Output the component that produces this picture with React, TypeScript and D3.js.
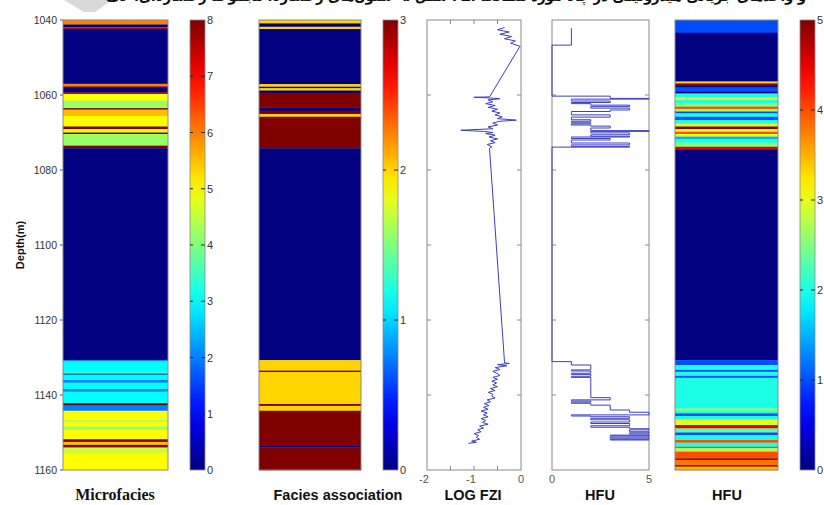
import React from "react";
import * as d3 from "d3";

// ---------- DATA ----------
const depthTicks = [1040, 1060, 1080, 1100, 1120, 1140, 1160];
const depthDomain = [1040, 1160];

// Microfacies (0-8): band top depth / value
const microTop = [1040, 1041.2, 1041.9, 1042.3, 1057.0, 1057.7, 1058.1, 1059.3, 1059.7, 1061.5, 1063.5, 1063.9, 1065.6, 1068.4, 1069.1, 1070.0, 1070.4, 1073.5, 1074.2, 1130.7, 1131.0, 1133.8, 1134.2, 1134.7, 1136.0, 1136.7, 1138.4, 1139.1, 1142.2, 1142.8, 1144.2, 1146.7, 1147.1, 1148.4, 1149.3, 1151.8, 1152.5, 1153.3, 1154.0, 1155.6];
const microVal = [6, 0, 7, 0, 6, 8, 0, 8, 5, 4.2, 8, 5.5, 5, 8, 5, 8, 4.2, 8, 0, 2, 3, 3.6, 2, 3, 2, 3, 2, 3, 8, 2, 5, 4.2, 5, 4.2, 5, 8, 5.5, 8, 4.6, 5];

// Facies association (0-3)
const faciesTop = [1040, 1040.9, 1041.8, 1042.4, 1057.1, 1057.8, 1058.2, 1058.8, 1059.4, 1063.3, 1064.2, 1065.1, 1065.8, 1074.2, 1130.7, 1133.5, 1133.9, 1142.4, 1142.9, 1144.2, 1153.4, 1153.9];
const faciesVal = [2, 0, 2, 0, 2, 0, 2, 0, 3, 0, 3, 2, 3, 0, 2, 3, 2, 3, 2, 3, 0, 3];

// HFU coloured column (0-5)
const hfuTop = [1040, 1043.4, 1056.4, 1056.9, 1057.6, 1058.0, 1059.1, 1059.6, 1060.6, 1061.3, 1062.2, 1063.1, 1063.7, 1064.4, 1064.9, 1065.8, 1066.7, 1067.6, 1068.4, 1069.1, 1069.8, 1070.4, 1071.1, 1071.8, 1072.7, 1073.8, 1074.5, 1130.7, 1132.0, 1133.3, 1133.8, 1134.9, 1135.4, 1143.6, 1144.2, 1144.9, 1145.6, 1146.5, 1148.0, 1148.9, 1150.0, 1150.7, 1152.0, 1152.7, 1153.8, 1154.2, 1155.1, 1156.9, 1157.3, 1158.7, 1159.1];
const hfuVal = [1, 0, 3.3, 5, 0, 1, 0, 2, 3, 2, 2.5, 4, 2.7, 1, 2, 1, 2, 3, 5, 3, 4, 3, 1.5, 2, 2.5, 4.5, 0, 1, 2, 1, 2, 1, 2, 2.6, 2, 1, 2, 3, 4.5, 2.3, 1, 2, 4, 2, 4, 2.7, 4, 5, 3.8, 5, 3.5];

// LOG FZI curve
const fziDepth = [1042.0, 1042.6, 1043.2, 1043.8, 1044.4, 1045.0, 1045.6, 1046.2, 1047.0, 1060.5, 1060.6, 1060.8, 1061.0, 1061.3, 1061.8, 1062.3, 1062.8, 1063.3, 1063.8, 1064.3, 1064.8, 1065.3, 1065.8, 1066.3, 1066.7, 1067.0, 1067.5, 1068.0, 1068.5, 1069.0, 1069.4, 1069.7, 1070.0, 1070.3, 1070.7, 1071.2, 1071.7, 1072.2, 1072.7, 1073.2, 1073.8, 1074.2, 1131.4, 1131.6, 1131.9, 1132.2, 1132.7, 1133.2, 1133.7, 1134.3, 1134.8, 1135.3, 1135.8, 1136.3, 1136.8, 1137.3, 1137.8, 1138.3, 1138.8, 1139.3, 1139.8, 1140.3, 1140.8, 1141.3, 1141.8, 1142.3, 1142.8, 1143.3, 1143.8, 1144.3, 1144.8, 1145.3, 1145.8, 1146.3, 1146.8, 1147.3, 1147.8, 1148.3, 1148.8, 1149.3, 1149.8, 1150.3, 1150.8, 1151.3, 1151.8, 1152.3, 1152.6, 1152.9];
const fziValue = [-0.35, -0.5, -0.25, -0.45, -0.2, -0.35, -0.12, -0.22, -0.02, -0.67, -1.0, -0.65, -0.45, -0.7, -0.6, -0.75, -0.55, -0.7, -0.5, -0.62, -0.45, -0.55, -0.4, -0.5, -0.1, -0.45, -0.6, -0.5, -0.7, -0.6, -1.28, -0.8, -0.6, -0.75, -0.55, -0.68, -0.5, -0.65, -0.55, -0.72, -0.62, -0.67, -0.35, -0.25, -0.5, -0.3, -0.55, -0.45, -0.6, -0.5, -0.45, -0.6, -0.5, -0.62, -0.52, -0.6, -0.5, -0.65, -0.55, -0.7, -0.6, -0.62, -0.55, -0.72, -0.65, -0.78, -0.68, -0.8, -0.7, -0.85, -0.72, -0.8, -0.7, -0.85, -0.75, -0.82, -0.7, -0.88, -0.8, -0.92, -0.85, -1.0, -0.9, -0.95, -0.88, -1.05, -0.95, -1.12];

// HFU stair plot: depth at which value changes / new value
const hfuStepDepth = [1042.2, 1046.7, 1060.3, 1060.9, 1061.1, 1061.6, 1062.0, 1062.3, 1062.7, 1063.1, 1063.5, 1064.0, 1064.4, 1065.3, 1065.9, 1066.6, 1067.0, 1067.4, 1067.7, 1068.0, 1068.3, 1068.8, 1069.5, 1069.7, 1070.1, 1070.6, 1071.0, 1071.2, 1071.6, 1072.0, 1072.8, 1073.3, 1073.7, 1073.9, 1131.1, 1132.0, 1133.3, 1133.6, 1134.2, 1134.5, 1135.0, 1135.3, 1140.7, 1141.3, 1141.6, 1141.9, 1142.2, 1142.7, 1144.0, 1144.6, 1145.3, 1145.6, 1145.8, 1146.2, 1146.6, 1147.2, 1147.6, 1148.2, 1148.6, 1149.0, 1149.3, 1149.8, 1150.1, 1150.4, 1150.7, 1150.9, 1151.2, 1151.5, 1151.8, 1152.0];
const hfuStepValue = [1, 0, 3, 5, 1, 3, 1, 2, 4, 2, 4, 3, 1, 3, 1, 2, 1, 2, 1, 2, 3, 2, 5, 2, 4, 2, 4, 1, 3, 1, 4, 1, 4, 0, 1, 2, 1, 2, 1, 2, 1, 2, 3, 1, 2, 1, 2, 3, 4, 5, 1, 2, 4, 2, 4, 2, 4, 2, 4, 5, 4, 5, 4, 5, 3, 5, 3, 5, 3, 5];

const microTicks = [0, 1, 2, 3, 4, 5, 6, 7, 8];
const faciesTicks = [0, 1, 2, 3];
const hfuTicks = [0, 1, 2, 3, 4, 5];
const fziTicks = [-2, -1.5, -1, -0.5, 0];
const fziLabels = [-2, -1, 0];
const hfuAxisLabels = [0, 5];

// ---------- HELPERS ----------
const clamp = (v: number) => Math.max(0, Math.min(1, v));
function jet(t: number) {
  const r = clamp(1.5 - Math.abs(4 * t - 3));
  const g = clamp(1.5 - Math.abs(4 * t - 2));
  const b = clamp(1.5 - Math.abs(4 * t - 1));
  return d3.rgb(r * 255, g * 255, b * 255).formatHex();
}

const FRAME = "#8a8a8a";
const LINE = "#3b3fc0";

function Bands({ x, w, tops, vals, max, y }: any) {
  return (
    <g>
      {tops.map((t: number, i: number) => {
        const b = i < tops.length - 1 ? tops[i + 1] : depthDomain[1];
        return (
          <rect key={i} x={x} y={y(t)} width={w} height={y(b) - y(t) + 0.3} fill={jet(vals[i] / max)} />
        );
      })}
      <rect x={x} y={y(depthDomain[0])} width={w} height={y(depthDomain[1]) - y(depthDomain[0])} fill="none" stroke={FRAME} strokeWidth={1} />
    </g>
  );
}

function ColorBar({ id, x, w, max, ticks, y }: any) {
  const stops = d3.range(0, 1.0001, 0.05);
  const y0 = y(depthDomain[1]);
  const y1 = y(depthDomain[0]);
  const s = d3.scaleLinear().domain([0, max]).range([y0, y1]);
  return (
    <g>
      <defs>
        <linearGradient id={id} x1="0" y1="1" x2="0" y2="0">
          {stops.map((t, i) => (
            <stop key={i} offset={t} stopColor={jet(t)} />
          ))}
        </linearGradient>
      </defs>
      <rect x={x} y={y1} width={w} height={y0 - y1} fill={`url(#${id})`} stroke={FRAME} strokeWidth={0.8} />
      {ticks.map((t: number) => (
        <g key={t}>
          {t !== 0 && t !== max && (
            <>
              <line x1={x + w - 4} x2={x + w} y1={s(t)} y2={s(t)} stroke="#222" strokeWidth={1} />
              <line x1={x} x2={x + 3} y1={s(t)} y2={s(t)} stroke="#222" strokeWidth={1} />
            </>
          )}
          <text x={x + w + 2} y={s(t) + 4} fontSize={11} fill="#333" fontFamily="Liberation Sans, Arial, sans-serif">
            {t}
          </text>
        </g>
      ))}
    </g>
  );
}

export default function App() {
  const y = d3.scaleLinear().domain(depthDomain).range([20, 470]);
  const fziX = d3.scaleLinear().domain([-2, 0]).range([427, 521]);
  const hfuX = d3.scaleLinear().domain([0, 5]).range([552, 649]);

  const fziPath = d3
    .line<number>()
    .x((_, i) => fziX(fziValue[i]))
    .y((d) => y(d))(fziDepth) as string;

  const stepPath = d3
    .line<number>()
    .x((_, i) => hfuX(hfuStepValue[i]))
    .y((d) => y(d))
    .curve(d3.curveStepBefore)(hfuStepDepth) as string;

  const top = y(depthDomain[0]);
  const bot = y(depthDomain[1]);
  const sans = "Liberation Sans, Arial, sans-serif";

  const plainPanel = (x0: number, x1: number, xTicks: number[], xs: any) => (
    <g>
      <rect x={x0} y={top} width={x1 - x0} height={bot - top} fill="#fff" stroke={FRAME} strokeWidth={1} />
      {depthTicks.slice(1, -1).map((d) => (
        <g key={d}>
          <line x1={x0} x2={x0 + 4} y1={y(d)} y2={y(d)} stroke={FRAME} />
          <line x1={x1 - 4} x2={x1} y1={y(d)} y2={y(d)} stroke={FRAME} />
        </g>
      ))}
      {xTicks.map((t) => (
        <g key={t}>
          <line x1={xs(t)} x2={xs(t)} y1={top} y2={top + 4} stroke={FRAME} />
          <line x1={xs(t)} x2={xs(t)} y1={bot - 4} y2={bot} stroke={FRAME} />
        </g>
      ))}
    </g>
  );

  return (
    <svg width={824} height={505} style={{ position: "absolute", left: 0, top: 0, background: "#fff" }}>
      {/* cut-off header */}
      <polygon points="64,0 112,0 95,12 84,12" fill="#d9d9d9" />
      <text x={456} y={0.5} fontSize={15} fontWeight="bold" fontFamily="DejaVu Sans, sans-serif" textAnchor="middle" textLength={700} lengthAdjust="spacingAndGlyphs" fill="#111">
        شکل ۵- ستون‌های رخساره، مجموعه رخساره‌ای، لاگ FZI و واحدهای جریانی هیدرولیکی در چاه مورد مطالعه
      </text>

      {/* Depth axis */}
      <text transform="translate(24,245) rotate(-90)" textAnchor="middle" fontSize={11} fontWeight="bold" fontFamily={sans} fill="#111">
        Depth(m)
      </text>
      {depthTicks.map((d) => (
        <g key={d}>
          <line x1={60} x2={63} y1={y(d)} y2={y(d)} stroke="#555" />
          <text x={57} y={y(d) + 4} textAnchor="end" fontSize={10.5} fill="#333" fontFamily={sans}>
            {d}
          </text>
        </g>
      ))}

      {/* Microfacies */}
      <Bands x={63} w={105} tops={microTop} vals={microVal} max={8} y={y} />
      <ColorBar id="cb1" x={190} w={15} max={8} ticks={microTicks} y={y} />

      {/* Facies association */}
      <Bands x={259} w={102} tops={faciesTop} vals={faciesVal} max={3} y={y} />
      <ColorBar id="cb2" x={383} w={15} max={3} ticks={faciesTicks} y={y} />

      {/* LOG FZI */}
      {plainPanel(427, 521, fziTicks.slice(1, -1), fziX)}
      <path d={fziPath} fill="none" stroke={LINE} strokeWidth={1} />
      {fziLabels.map((t) => (
        <text key={t} x={fziX(t) - (t < 0 ? 3 : 0)} y={483} textAnchor="middle" fontSize={11} fill="#555" fontFamily={sans}>
          {t}
        </text>
      ))}

      {/* HFU stairs */}
      {plainPanel(552, 649, [], hfuX)}
      <path d={stepPath} fill="none" stroke={LINE} strokeWidth={1} />
      {hfuAxisLabels.map((t) => (
        <text key={t} x={hfuX(t)} y={483} textAnchor="middle" fontSize={11} fill="#555" fontFamily={sans}>
          {t}
        </text>
      ))}

      {/* HFU coloured */}
      <Bands x={675} w={103} tops={hfuTop} vals={hfuVal} max={5} y={y} />
      <ColorBar id="cb3" x={800} w={15} max={5} ticks={hfuTicks} y={y} />

      {/* Titles */}
      <text x={115} y={500} textAnchor="middle" fontSize={16} fontWeight="bold" fontFamily="Liberation Serif, Times New Roman, serif" fill="#111">
        Microfacies
      </text>
      <text x={338} y={500} textAnchor="middle" fontSize={14.5} fontWeight="bold" fontFamily={sans} fill="#111">
        Facies association
      </text>
      <text x={473} y={500} textAnchor="middle" fontSize={14.5} fontWeight="bold" fontFamily={sans} fill="#111">
        LOG FZI
      </text>
      <text x={600} y={500} textAnchor="middle" fontSize={14.5} fontWeight="bold" fontFamily={sans} fill="#111">
        HFU
      </text>
      <text x={727} y={500} textAnchor="middle" fontSize={14.5} fontWeight="bold" fontFamily={sans} fill="#111">
        HFU
      </text>
    </svg>
  );
}
